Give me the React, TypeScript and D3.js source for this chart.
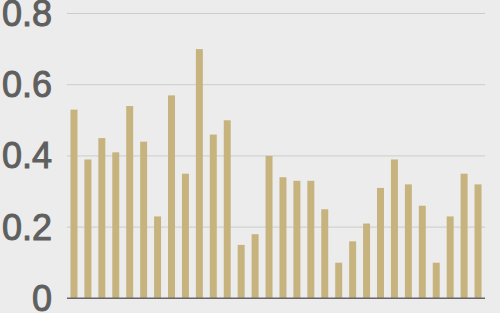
import React from "react";
import * as d3 from "d3";

const categories: string[] = Array.from({ length: 30 }, (_, i) => `C${i + 1}`);
const values: number[] = [
  0.53, 0.39, 0.45, 0.41, 0.54, 0.44, 0.23, 0.57, 0.35, 0.7,
  0.46, 0.5, 0.15, 0.18, 0.4, 0.34, 0.33, 0.33, 0.25, 0.1,
  0.16, 0.21, 0.31, 0.39, 0.32, 0.26, 0.1, 0.23, 0.35, 0.32,
];
const yTicks: number[] = [0, 0.2, 0.4, 0.6, 0.8];

const W = 500;
const H = 313;
const left = 67;
const right = 485;
const top = 13.5;
const bottom = 298.3;

export default function App() {
  const x = d3
    .scaleBand<string>()
    .domain(categories)
    .range([left, right])
    .paddingInner(0.5)
    .paddingOuter(0.25);
  const y = d3.scaleLinear().domain([0, 0.8]).range([bottom, top]);
  const fmt = (v: number) => (v === 0 ? "0" : d3.format(".1f")(v));
  return (
    <svg
      width={W}
      height={H}
      style={{ position: "absolute", left: 0, top: 0, display: "block" }}
    >
      <rect x={0} y={0} width={W} height={H} fill="#ececec" />
      {yTicks
        .filter((t) => t > 0)
        .map((t) => (
          <line
            key={t}
            x1={left}
            x2={right}
            y1={y(t)}
            y2={y(t)}
            stroke="#cccccc"
            strokeWidth={1}
          />
        ))}
      {values.map((v, i) => (
        <rect
          key={i}
          x={x(categories[i])}
          y={y(v)}
          width={x.bandwidth()}
          height={y(0) - y(v)}
          fill="#c6b37e"
        />
      ))}
      <line
        x1={left}
        x2={right}
        y1={y(0)}
        y2={y(0)}
        stroke="#666666"
        strokeWidth={1.5}
      />
      {yTicks.map((t) => (
        <text
          key={t}
          x={52}
          y={y(t)}
          textAnchor="end"
          dominantBaseline="central"
          fontFamily="'Liberation Sans', Arial, sans-serif"
          fontSize={36}
          fill="#5f5f5f"
          stroke="#5f5f5f"
          strokeWidth={1}
        >
          {fmt(t)}
        </text>
      ))}
    </svg>
  );
}
